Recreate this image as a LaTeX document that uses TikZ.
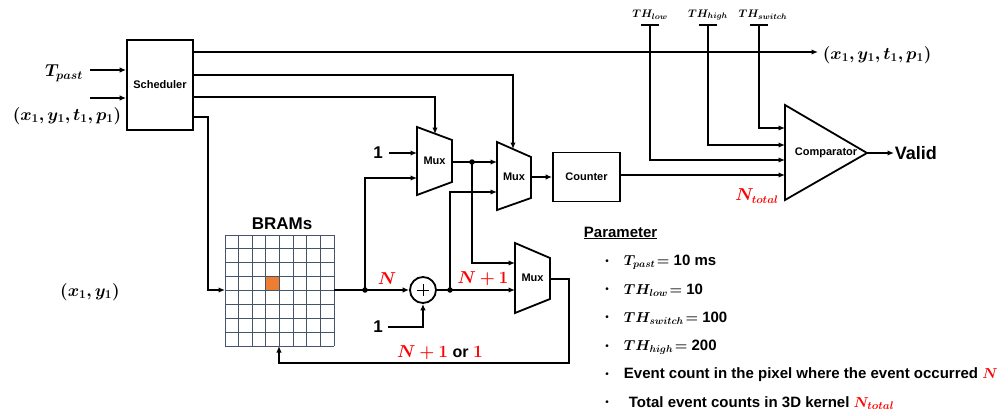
\documentclass[tikz,border=0pt]{standalone}
\usepackage{fontspec}
\setmainfont{Liberation Sans}
\usepackage{bm}
\usetikzlibrary{arrows.meta,calc}
\definecolor{cellor}{RGB}{237,125,49}
\definecolor{gridc}{RGB}{68,84,106}
\begin{document}
\begin{tikzpicture}[x=1pt,y=-1pt,line width=1.8pt,
 arr/.style={-{Latex[length=6.5pt,width=5.5pt]}},
 blk/.style={draw,rectangle,inner sep=0pt,font=\bfseries\fontsize{11}{13}\selectfont},
 lbl/.style={inner sep=0pt,font=\bfseries\fontsize{11}{13}\selectfont},
 mlbl/.style={inner sep=0pt,font=\fontsize{17.5}{19}\selectfont},
 thl/.style={inner sep=0pt,font=\fontsize{11}{13}\selectfont},
 rl/.style={inner sep=0pt,text=red,font=\fontsize{16}{18}\selectfont},
 one/.style={inner sep=0pt,font=\bfseries\fontsize{17}{19}\selectfont},
 dot/.style={circle,fill,inner sep=0pt,minimum size=5.5pt},
 btxt/.style={anchor=west,inner sep=0pt,font=\bfseries\fontsize{15}{17}\selectfont},
 bul/.style={inner sep=0pt,font=\fontsize{10}{12}\selectfont}]
\useasboundingbox (0,0) rectangle (1008,415);

% Scheduler and inputs
\node[blk,minimum width=66pt,minimum height=90pt] (sched) at (160,85) {Scheduler};
\node[mlbl] (tpast) at (64,73) {$\bm{T_{past}}$};
\node[mlbl] (xin) at (67,116) {$\bm{(x_1,y_1,t_1,p_1)}$};
\coordinate (tpS) at (90,70);
\coordinate (xiS) at (90,98);
\draw[arr] (tpS) -- (sched.west |- tpS);
\draw[arr] (xiS) -- (sched.west |- xiS);

% Muxes
\draw (417,127) -- (452,140) -- (452,182) -- (417,195) -- cycle;
\node[lbl] (mux1) at (434.5,161) {Mux};
\draw (497,142) -- (531,157) -- (531,198) -- (497,210) -- cycle;
\node[lbl] (mux2) at (514,177) {Mux};
\draw (515,243) -- (550,258) -- (550,299) -- (515,313) -- cycle;
\node[lbl] (mux3) at (532.5,278) {Mux};
\coordinate (m1top) at (435,134);
\coordinate (m1in1) at (417,153);
\coordinate (m1in2) at (417,178);
\coordinate (m1out) at (452,162);
\coordinate (m2top) at (513,149);
\coordinate (m2in1) at (497,162);
\coordinate (m2in2) at (497,192);
\coordinate (m2out) at (531,177);
\coordinate (m3in1) at (515,263);
\coordinate (m3in2) at (515,290);
\coordinate (m3out) at (550,279);

% Counter and comparator
\node[blk,minimum width=67pt,minimum height=49pt] (cnt) at (586.5,177) {Counter};
\draw (785,105) -- (867,153) -- (785,200) -- cycle;
\node[lbl] (cmp) at (826,153) {Comparator};
\coordinate (cmpout) at (867,153);
\coordinate (cin1) at (785,128);
\coordinate (cin2) at (785,145);
\coordinate (cin3) at (785,160);
\coordinate (cin4) at (785,175);
\node[inner sep=0pt,anchor=west,font=\bfseries\fontsize{18}{20}\selectfont] (valid) at (894,153) {Valid};
\draw[arr] (cmpout) -- (valid.west);
\node[rl] (ntot) at (757,196) {$\bm{N_{total}}$};

% thresholds
\node[thl] (thlow) at (650,15) {$\bm{TH_{low}}$};
\node[thl] (thhigh) at (708,15) {$\bm{TH_{high}}$};
\node[thl] (thsw) at (763,15) {$\bm{TH_{switch}}$};
\coordinate (tl) at (650,25);
\coordinate (th) at (708,25);
\coordinate (ts) at (759,25);
\draw ($(tl)+(-9,0)$) -- ($(tl)+(9,0)$);
\draw ($(th)+(-9,0)$) -- ($(th)+(9,0)$);
\draw ($(ts)+(-9,0)$) -- ($(ts)+(9,0)$);
\draw[arr] (tl) |- (cin3);
\draw[arr] (th) |- (cin2);
\draw[arr] (ts) |- (cin1);

% scheduler outputs
\node[mlbl,anchor=west] (xout) at (822,55) {$\bm{(x_1,y_1,t_1,p_1)}$};
\draw[arr] (sched.east |- 0,52) -- (818,52);
\draw[arr] (sched.east |- 0,75) -| (m2top);
\draw[arr] (sched.east |- 0,97) -| (m1top);

% BRAM grid
\node[minimum width=109pt,minimum height=111pt,inner sep=0pt,line width=0pt] (bram) at (279.5,290.5) {};
\fill[cellor] (265.9,276.6) rectangle (279.5,290.5);
\foreach \i in {0,...,8}{
  \draw[gridc,line width=0.8pt] (225+\i*13.625,235) -- (225+\i*13.625,346);
  \draw[gridc,line width=0.8pt] (225,235+\i*13.875) -- (334,235+\i*13.875);
}
\node[inner sep=0pt,font=\bfseries\fontsize{17}{19}\selectfont] (bramlbl) at (282,224) {BRAMs};
\coordinate (bin) at (225,290);
\coordinate (bout) at (334,290);
\coordinate (bbot) at (279,346);
\draw[arr] (sched.east |- 0,117) -| (208,290) -- (bin);

% adder
\node[circle,draw,minimum size=26pt,inner sep=0pt] (add) at (423,290) {};
\draw[line width=0.8pt] ($(add.center)+(-6,0)$) -- ($(add.center)+(6,0)$);
\draw[line width=0.8pt] ($(add.center)+(0,-6)$) -- ($(add.center)+(0,6)$);
\node[dot] (d1) at (365,290) {};
\node[dot] (d2) at (450,290) {};
\node[dot] (d3) at (472,162) {};
\draw[arr] (bout) -- (add.west);
\draw[arr] (add.east) -- (m3in2);
\draw[arr] (d1.center) |- (m1in2);
\draw[arr] (d2.center) |- (m2in2);
\draw[arr] (m1out) -- (m2in1);
\draw[arr] (d3.center) |- (m3in1);
\draw[arr] (m2out) -- (cnt.west |- m2out);
\draw[arr] (cnt.east |- cin4) -- (cin4);

\node[one] (one1) at (378,153) {1};
\draw[arr] (389,153) -- (m1in1);
\node[one] (one2) at (378,327) {1};
\draw[arr] (388,327) -| (add.south);

\draw[arr] (m3out) -- (569,279) -- (569,363) -| (bbot);

\node[rl] (nl) at (387,279) {$\bm{N}$};
\node[rl] (n1l) at (483,279) {$\bm{N+1}$};
\node[inner sep=0pt,font=\fontsize{16}{18}\selectfont] (fbl) at (440,353) {\textcolor{red}{$\bm{N+1}$} \textbf{or} \textcolor{red}{$\bm{1}$}};
\node[mlbl] (xy) at (90,292) {$\bm{(x_1,y_1)}$};

% parameters
\node[btxt] (par) at (583,233) {\underline{Parameter}};
\node[bul] (u1) at (607,262) {\textbullet};
\node[bul] (u2) at (607,290) {\textbullet};
\node[bul] (u3) at (607,318) {\textbullet};
\node[bul] (u4) at (607,347) {\textbullet};
\node[bul] (u5) at (607,375) {\textbullet};
\node[bul] (u6) at (607,403) {\textbullet};
\node[btxt] (p1) at (623,262) {{\fontsize{14.5}{16}\selectfont$\bm{T_{past}\!=}$} 10 ms};
\node[btxt] (p2) at (623,290) {{\fontsize{14.5}{16}\selectfont$\bm{TH_{low}\!=}$} 10};
\node[btxt] (p3) at (623,318) {{\fontsize{14.5}{16}\selectfont$\bm{TH_{switch}\!=}$} 100};
\node[btxt] (p4) at (623,347) {{\fontsize{14.5}{16}\selectfont$\bm{TH_{high}\!=}$} 200};
\node[btxt] (p5) at (623,375) {Event count in the pixel where the event occurred \textcolor{red}{$\bm{N}$}};
\node[btxt] (p6) at (628,403) {Total event counts in 3D kernel \textcolor{red}{$\bm{N_{total}}$}};
\end{tikzpicture}
\end{document}
